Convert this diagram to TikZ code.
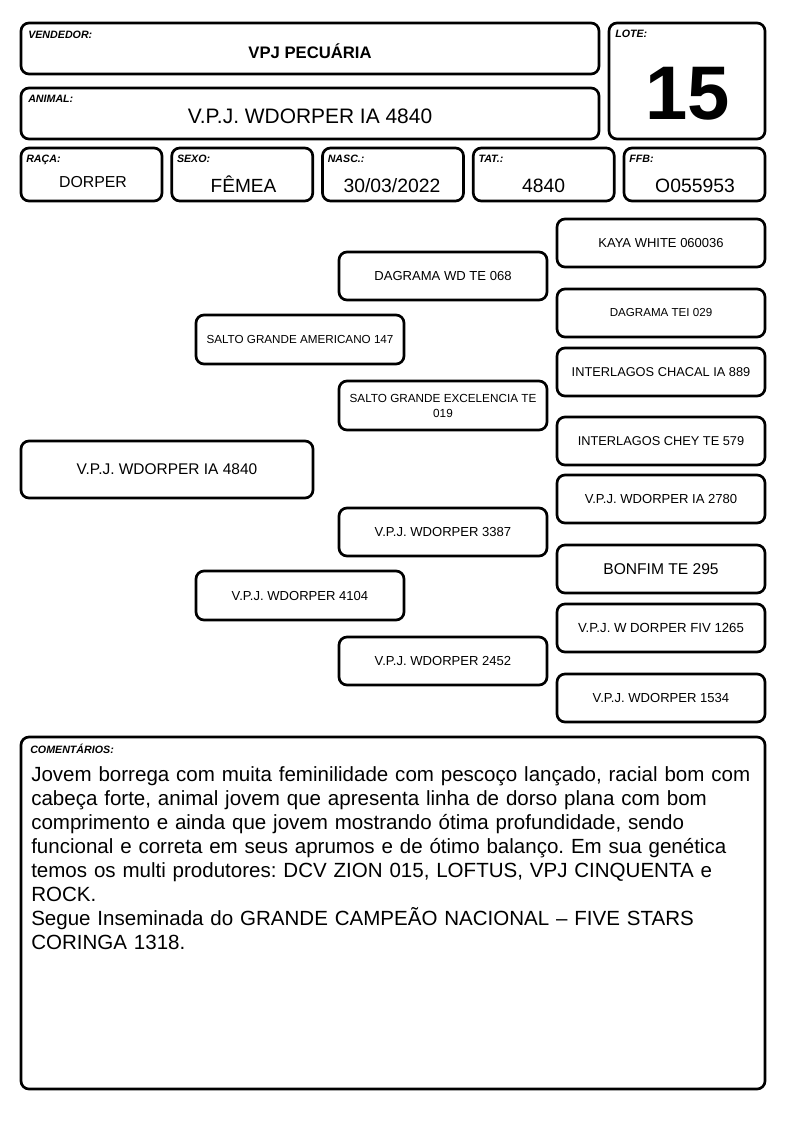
\documentclass[tikz,border=0pt]{standalone}
\usepackage{fontspec}
\setmainfont{Liberation Sans}
\frenchspacing

\begin{document}
\begin{tikzpicture}[x=0.75pt, y=-0.75pt,
    box/.style={draw, line width=2pt, rounded corners=6pt, inner sep=0pt},
    tag/.style={anchor=north west, inner sep=0pt, font=\fontsize{8}{9}\selectfont\bfseries\itshape},
    val/.style={anchor=base, inner sep=0pt},
    pbox/.style={box, minimum width=156pt, minimum height=36pt, align=center}]

    \fill[white] (0,0) rectangle (794,1123);
    \useasboundingbox (0,0) rectangle (794,1123);

    % header
    \node[box, minimum width=433.5pt, minimum height=38.25pt] (vend) at (310,48.5) {};
    \node[tag] (vendtag) at (28,31) {VENDEDOR:};
    \node[val, font=\fontsize{12.5}{15}\selectfont\bfseries] (vendval) at (310,59) {VPJ PECUÁRIA};

    \node[box, minimum width=433.5pt, minimum height=38.25pt] (anim) at (310,113.5) {};
    \node[tag] (animtag) at (28,95) {ANIMAL:};
    \node[val, font=\fontsize{15.7}{18}\selectfont] (animval) at (310,123.5) {V.P.J. WDORPER IA 4840};

    \node[box, minimum width=117pt, minimum height=87pt] (lote) at (687,81) {};
    \node[tag] (lotetag) at (615,30) {LOTE:};
    \node[val, font=\fontsize{57}{60}\selectfont\bfseries] (loteval) at (688,119.5) {15};

    \foreach \i/\x/\lab in {1/91.5/RAÇA:, 2/242.25/SEXO:, 3/393/NASC.:, 4/543.75/TAT.:, 5/694.5/FFB:} {
        \node[box, minimum width=105.75pt, minimum height=39.75pt] (f\i) at (\x,174.5) {};
        \node[tag] (t\i) at (\x-65.5,155) {\lab};
    }
    \node[val, font=\fontsize{11.9}{14}\selectfont] (v1) at (93,188) {DORPER};
    \node[val, font=\fontsize{14.3}{17}\selectfont] (v2) at (243.5,193) {FÊMEA};
    \node[val, font=\fontsize{14.5}{17}\selectfont] (v3) at (392,193) {30/03/2022};
    \node[val, font=\fontsize{14.5}{17}\selectfont] (v4) at (543.5,193) {4840};
    \node[val, font=\fontsize{14.5}{17}\selectfont] (v5) at (695,193) {O055953};

    % pedigree
    \node[box, minimum width=219pt, minimum height=42.75pt, font=\fontsize{11.6}{14}\selectfont] (p) at (167,469.5) {V.P.J. WDORPER IA 4840};

    \node[pbox, minimum height=36.75pt, font=\fontsize{8.75}{11}\selectfont] (s) at (300,339.5) {SALTO GRANDE AMERICANO 147};
    \node[pbox, minimum height=36.75pt, font=\fontsize{9.8}{11}\selectfont] (d) at (300,595.5) {V.P.J. WDORPER 4104};

    \node[pbox, font=\fontsize{9.8}{11}\selectfont] (ss) at (443,276) {DAGRAMA WD TE 068};
    \node[pbox, minimum height=36.75pt, font=\fontsize{8.8}{11.25}\selectfont] (sd) at (443,405.5) {SALTO GRANDE EXCELENCIA TE\\019};
    \node[pbox, font=\fontsize{9.8}{11}\selectfont] (ds) at (443,532) {V.P.J. WDORPER 3387};
    \node[pbox, font=\fontsize{9.8}{11}\selectfont] (dd) at (443,661) {V.P.J. WDORPER 2452};

    \foreach \n/\y/\sz/\txt in {sss/243/9.75/KAYA WHITE 060036, ssd/313/8.7/DAGRAMA TEI 029,
        sds/372/9.6/INTERLAGOS CHACAL IA 889, sdd/441/9.6/INTERLAGOS CHEY TE 579,
        dss/499/9.8/V.P.J. WDORPER IA 2780, dsd/569/11.7/BONFIM TE 295,
        dds/628/9.9/V.P.J. W DORPER FIV 1265, ddd/698/9.8/V.P.J. WDORPER 1534} {
        \node[pbox, font=\fontsize{\sz}{12}\selectfont] (\n) at (661,\y) {\txt};
    }

    % comments
    \node[box, minimum width=558pt, minimum height=264pt] (com) at (393,913) {};
    \node[tag] (comtag) at (30,744) {COMENTÁRIOS:};
    \node[anchor=north west, inner sep=0pt, text width=555pt, align=left,
        font=\fontsize{15.4}{18}\selectfont] (comtxt) at (31,766) {%
        Jovem borrega com muita feminilidade com pescoço lançado, racial bom com\\
        cabeça forte, animal jovem que apresenta linha de dorso plana com bom\\
        comprimento e ainda que jovem mostrando ótima profundidade, sendo\\
        funcional e correta em seus aprumos e de ótimo balanço. Em sua genética\\
        temos os multi produtores: DCV ZION 015, LOFTUS, VPJ CINQUENTA e\\
        ROCK.\\
        Segue Inseminada do GRANDE CAMPEÃO NACIONAL – FIVE STARS\\
        CORINGA 1318.};

\end{tikzpicture}
\end{document}
